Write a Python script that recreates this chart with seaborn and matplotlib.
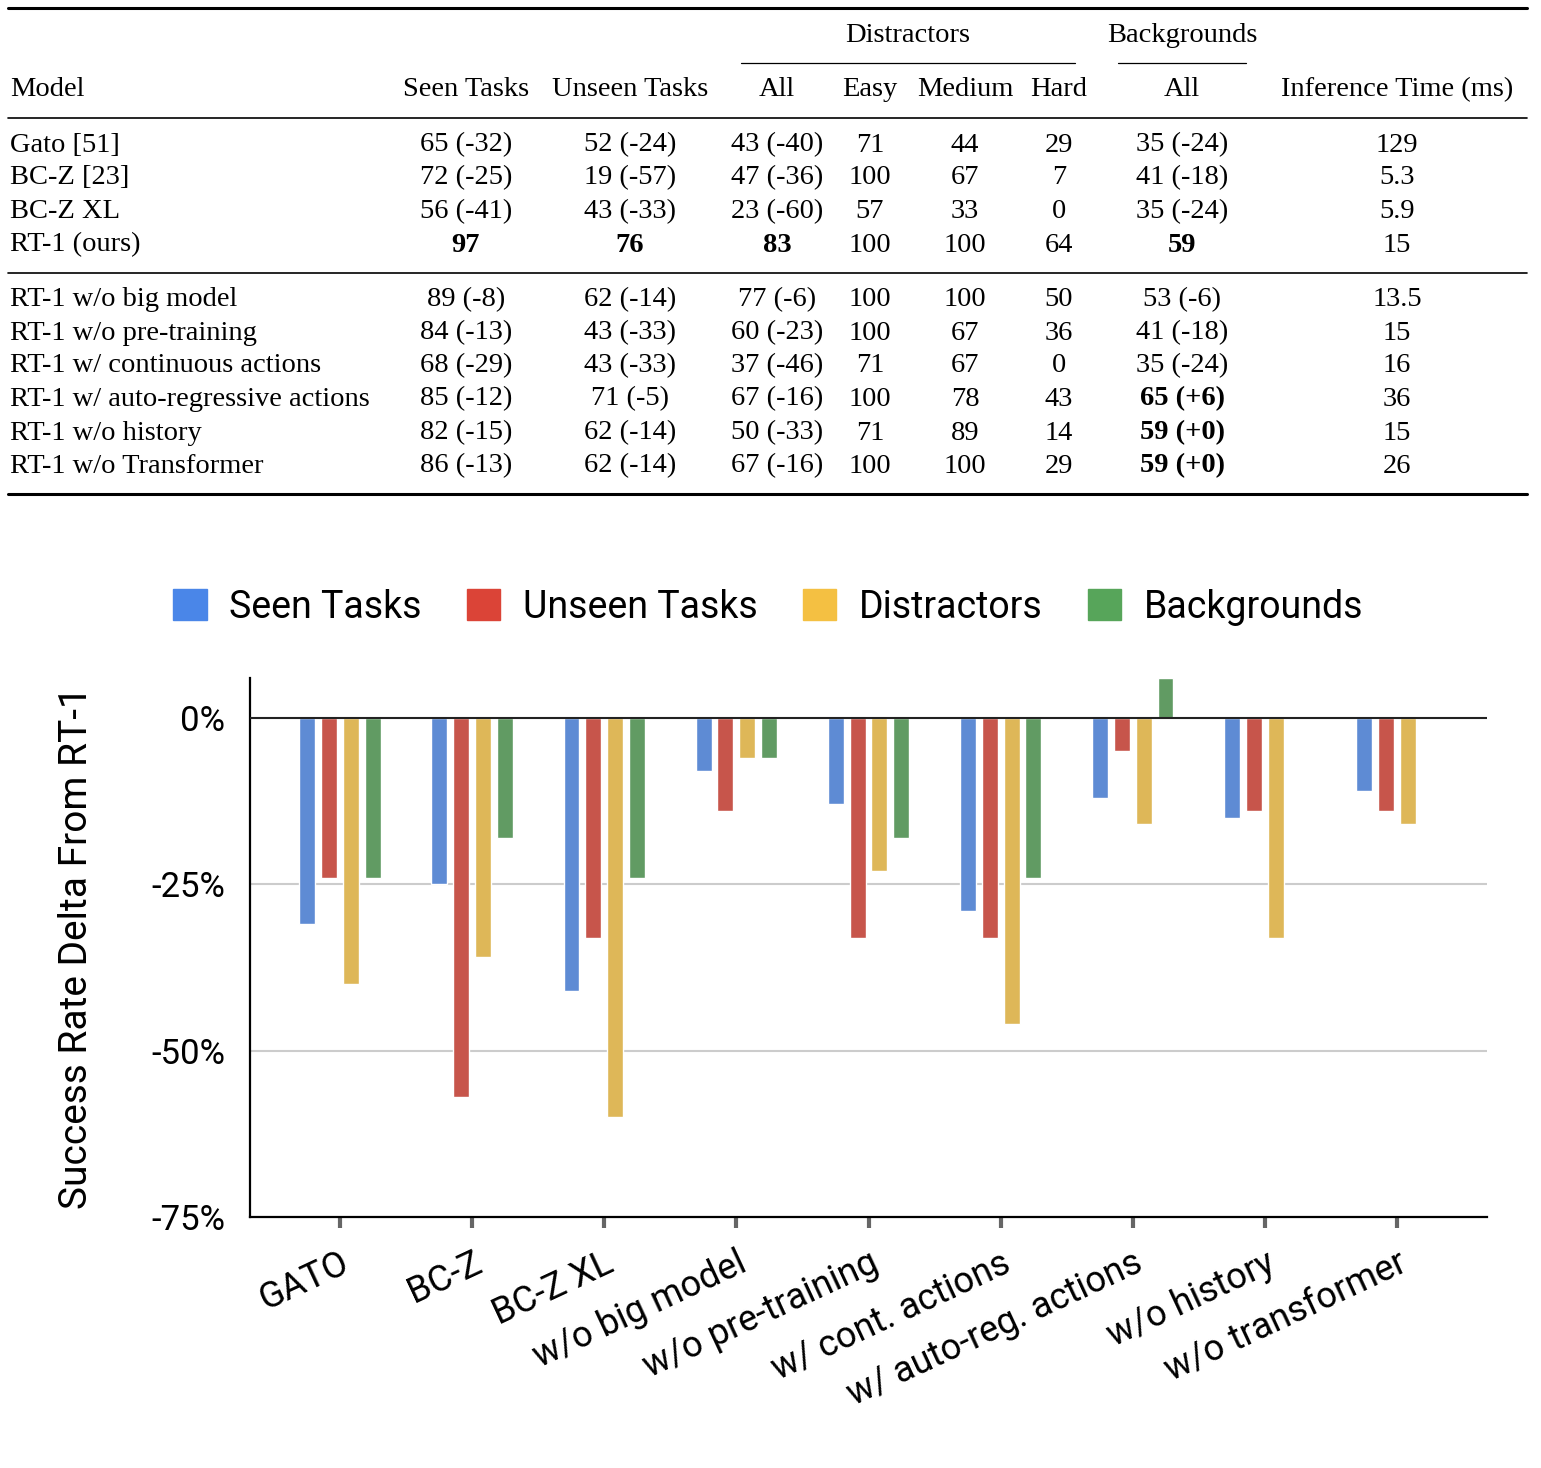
import matplotlib
matplotlib.use("Agg")
import matplotlib.pyplot as plt
import seaborn as sns
import pandas as pd
from matplotlib.lines import Line2D
from matplotlib.patches import Patch

sns.set_theme(style="white")
plt.rcParams['font.family'] = ['Roboto', 'DejaVu Sans']
plt.rcParams['text.color'] = 'black'
plt.rcParams['xtick.color'] = 'black'
plt.rcParams['ytick.color'] = 'black'
plt.rcParams['axes.labelcolor'] = 'black'

models = ["GATO", "BC-Z", "BC-Z XL", "w/o big model", "w/o pre-training",
          "w/ cont. actions", "w/ auto-reg. actions", "w/o history", "w/o transformer"]
series = ["Seen Tasks", "Unseen Tasks", "Distractors", "Backgrounds"]
seen = [-31, -25, -41, -8, -13, -29, -12, -15, -11]
unseen = [-24, -57, -33, -14, -33, -33, -5, -14, -14]
distract = [-40, -36, -60, -6, -23, -46, -16, -33, -16]
backgr = [-24, -18, -24, -6, -18, -24, 6, 0, 0]
colors = ["#4a86e8", "#db4437", "#f4c042", "#57a55a"]

t_head = ["Model", "Seen Tasks", "Unseen Tasks", "All", "Easy", "Medium", "Hard", "All", "Inference Time (ms)"]
t_rows1 = [
    ["Gato [51]", "65 (-32)", "52 (-24)", "43 (-40)", "71", "44", "29", "35 (-24)", "129"],
    ["BC-Z [23]", "72 (-25)", "19 (-57)", "47 (-36)", "100", "67", "7", "41 (-18)", "5.3"],
    ["BC-Z XL", "56 (-41)", "43 (-33)", "23 (-60)", "57", "33", "0", "35 (-24)", "5.9"],
    ["RT-1 (ours)", "97", "76", "83", "100", "100", "64", "59", "15"],
]
t_rows2 = [
    ["RT-1 w/o big model", "89 (-8)", "62 (-14)", "77 (-6)", "100", "100", "50", "53 (-6)", "13.5"],
    ["RT-1 w/o pre-training", "84 (-13)", "43 (-33)", "60 (-23)", "100", "67", "36", "41 (-18)", "15"],
    ["RT-1 w/ continuous actions", "68 (-29)", "43 (-33)", "37 (-46)", "71", "67", "0", "35 (-24)", "16"],
    ["RT-1 w/ auto-regressive actions", "85 (-12)", "71 (-5)", "67 (-16)", "100", "78", "43", "65 (+6)", "36"],
    ["RT-1 w/o history", "82 (-15)", "62 (-14)", "50 (-33)", "71", "89", "14", "59 (+0)", "15"],
    ["RT-1 w/o Transformer", "86 (-13)", "62 (-14)", "67 (-16)", "100", "100", "29", "59 (+0)", "26"],
]
bold_cells = {(3, 1), (3, 2), (3, 3), (3, 7), (7, 7), (8, 7), (9, 7)}

W, H = 1541, 1468
fig = plt.figure(figsize=(W / 100, H / 100), dpi=100)

def fx(x): return x / W
def fy(y): return 1 - y / H

serif = ['Liberation Serif', 'DejaVu Serif']
fs = 20.5
colx = [10, 466, 630, 777, 870, 965, 1059, 1182, 1397]

def hline(y, x0, x1, lw):
    fig.add_artist(Line2D([fx(x0), fx(x1)], [fy(y), fy(y)], color="black", lw=lw))

hline(8, 8, 1527, 2.2)
hline(118, 8, 1527, 1.2)
hline(273, 8, 1527, 1.2)
hline(494, 8, 1527, 2.2)
hline(63, 741, 1075, 0.9)
hline(63, 1118, 1246, 0.9)
fig.text(fx(908), fy(36), "Distractors", family=serif, fontsize=fs, ha="center", va="center")
fig.text(fx(1182), fy(36), "Backgrounds", family=serif, fontsize=fs, ha="center", va="center")
for j, h in enumerate(t_head):
    fig.text(fx(colx[j]), fy(90), h, family=serif, fontsize=fs,
             ha="left" if j == 0 else "center", va="center")
ys = [145, 178, 212, 245, 300, 333, 366, 399, 433, 466]
for i, row in enumerate(t_rows1 + t_rows2):
    for j, c in enumerate(row):
        fig.text(fx(colx[j]), fy(ys[i]), c, family=serif, fontsize=fs,
                 ha="left" if j == 0 else "center", va="center",
                 weight="bold" if (i, j) in bold_cells else "normal")

df = pd.DataFrame({"model": models * 4,
                   "series": sum([[s] * len(models) for s in series], []),
                   "value": seen + unseen + distract + backgr})
ax = fig.add_axes([fx(250), fy(1217), fx(1487 - 250), (1217 - 678) / H])
sns.barplot(data=df, x="model", y="value", hue="series", palette=colors,
            width=0.66, ax=ax, legend=False)
for p in ax.patches:
    w = p.get_width()
    p.set_x(p.get_x() + w * 0.135)
    p.set_width(w * 0.73)
ax.set_xlim(-0.68, 8.68)
ax.set_ylim(-75, 6)
ax.set_yticks([0, -25, -50, -75])
ax.set_yticklabels(["0%", "-25%", "-50%", "-75%"], fontsize=25)
for v in [-25, -50]:
    ax.axhline(v, color="#cccccc", lw=1.5, zorder=0)
ax.axhline(0, color="#222222", lw=1.5, zorder=3)
for s in ["top", "right"]:
    ax.spines[s].set_visible(False)
for s in ["left", "bottom"]:
    ax.spines[s].set_color("black")
    ax.spines[s].set_linewidth(1.6)
ax.tick_params(axis="x", length=8, width=3, color="#666666", bottom=True, pad=12)
ax.tick_params(axis="y", length=0, pad=18)
ax.set_xticks(range(len(models)))
ax.set_xticklabels(models, rotation=25, ha="right", rotation_mode="anchor", fontsize=26)
ax.set_xlabel("")
ax.set_ylabel("Success Rate Delta From RT-1", fontsize=28, labelpad=40)

handles = [Patch(color=c, label=s) for c, s in zip(colors, series)]
fig.legend(handles=handles, loc="center", bbox_to_anchor=(fx(768), fy(607)), ncol=4,
           frameon=False, fontsize=27, handlelength=0.9, handleheight=0.9,
           columnspacing=1.2, handletextpad=0.6)

fig.savefig("out.png", dpi=100)
